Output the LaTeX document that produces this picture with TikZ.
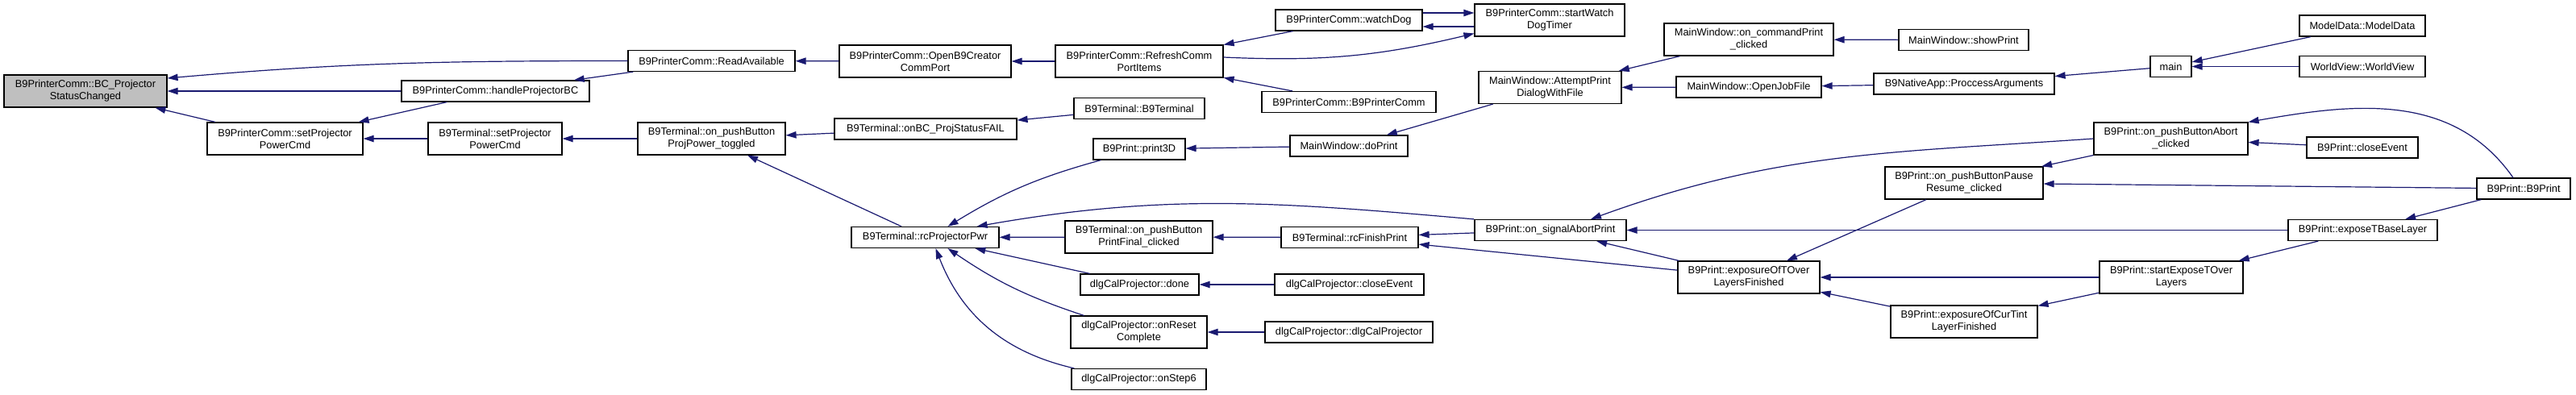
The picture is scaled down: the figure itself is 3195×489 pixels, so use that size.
\documentclass[tikz,border=0pt]{standalone}
\usepackage{fontspec}
\setmainfont{Liberation Sans}
\usetikzlibrary{arrows.meta}
\definecolor{edgeblue}{HTML}{191970}
\definecolor{hilite}{HTML}{BFBFBF}
\newcommand{\fnfont}{\fontsize{6.4pt}{7.5pt}\selectfont}
\tikzset{
  fn/.style={draw=black, fill=white, line width=0.6pt, align=center, font=\fnfont, inner sep=1pt},
  calls/.style={draw=edgeblue, line width=0.6pt, -{Triangle[length=6.5pt,width=4.2pt]}},
}

\begin{document}
\begin{tikzpicture}[x=0.5pt,y=-0.5pt]
    \useasboundingbox (0,0) rectangle (3195,489);
    \node[fn, fill=hilite, minimum width=101pt, minimum height=20pt] (bc) at (106,113)
      {B9PrinterComm::BC\_Projector\\StatusChanged};
    \foreach \n/\x/\y/\w/\h/\txt in {%
      handle/614.5/113/233/26/{B9PrinterComm::handleProjectorBC},
      pcSetPower/353.5/172/193/40/{B9PrinterComm::setProjector\\PowerCmd},
      termSetPower/614/172/166/40/{B9Terminal::setProjector\\PowerCmd},
      readAvail/882.5/75.5/207/26/{B9PrinterComm::ReadAvailable},
      projToggled/882.5/172/183/40/{B9Terminal::on\_pushButton\\ProjPower\_toggled},
      openPort/1147.5/76/213/40/{B9PrinterComm::OpenB9Creator\\CommPort},
      statusFail/1148/160/226/26/{B9Terminal::onBC\_ProjStatusFAIL},
      rcPwr/1147.5/294.5/183/26/{B9Terminal::rcProjectorPwr},
      refreshPort/1413/76/208/40/{B9PrinterComm::RefreshComm\\PortItems},
      termCtor/1413/134.5/162/26/{B9Terminal::B9Terminal},
      print3D/1413/185/114/26/{B9Print::print3D},
      printFinal/1412.5/294/183/40/{B9Terminal::on\_pushButton\\PrintFinal\_clicked},
      calDone/1413.5/353/147/26/{dlgCalProjector::done},
      calReset/1412.5/412/169/40/{dlgCalProjector::onReset\\Complete},
      calStep6/1412.5/470.5/167/26/{dlgCalProjector::onStep6},
      watchDog/1673/25/182/26/{B9PrinterComm::watchDog},
      pcCtor/1673/126.5/216/26/{B9PrinterComm::B9PrinterComm},
      doPrint/1673/181/146/26/{MainWindow::doPrint},
      rcFinish/1674/294.5/170/26/{B9Terminal::rcFinishPrint},
      calClose/1673.5/353/185/26/{dlgCalProjector::closeEvent},
      calCtor/1673/412/208/26/{dlgCalProjector::dlgCalProjector},
      startWatch/1922/25/186/40/{B9PrinterComm::startWatch\\DogTimer},
      attempt/1922.5/108.5/177/40/{MainWindow::AttemptPrint\\DialogWithFile},
      abortPrint/1923/285.5/188/26/{B9Print::on\_signalAbortPrint},
      cmdPrint/2169/49/210/40/{MainWindow::on\_commandPrint\\\_clicked},
      openJob/2169/108/180/26/{MainWindow::OpenJobFile},
      tOverDone/2169/344/176/40/{B9Print::exposureOfTOver\\LayersFinished},
      showPrint/2435.5/49.5/161/26/{MainWindow::showPrint},
      procArgs/2436/104/224/26/{B9NativeApp::ProccessArguments},
      pushPause/2436/227/196/40/{B9Print::on\_pushButtonPause\\Resume\_clicked},
      curTintDone/2436/399/182/40/{B9Print::exposureOfCurTint\\LayerFinished},
      mainFn/2692.5/82.5/51/26/{main},
      pushAbort/2692.5/172/191/40/{B9Print::on\_pushButtonAbort\\\_clicked},
      startTOver/2693/344/178/40/{B9Print::startExposeTOver\\Layers},
      modelData/2930/32/156/26/{ModelData::ModelData},
      worldView/2930/82.5/156/26/{WorldView::WorldView},
      printClose/2930/183/138/26/{B9Print::closeEvent},
      baseLayer/2930.5/285.5/185/26/{B9Print::exposeTBaseLayer},
      printCtor/3130/234/116/26/{B9Print::B9Print}}{
      \node[fn, minimum width=\w*0.5pt, minimum height=\h*0.5pt] (\n) at (\x,\y) {\txt};}
    \draw[calls] (readAvail.west) to[out=180,in=5] ([yshift=8pt]bc.east);
    \draw[calls] (handle) -- (bc);
    \draw[calls] (pcSetPower) -- (bc);
    \draw[calls] (readAvail) -- (handle);
    \draw[calls] (handle) -- (pcSetPower);
    \draw[calls] (termSetPower) -- (pcSetPower);
    \draw[calls] (projToggled) -- (termSetPower);
    \draw[calls] (openPort) -- (readAvail);
    \draw[calls] (refreshPort) -- (openPort);
    \draw[calls] (watchDog) -- (refreshPort);
    \draw[calls] (pcCtor) -- (refreshPort);
    \draw[calls] ([yshift=-4pt]startWatch.west) -- ([yshift=-4pt]watchDog.east);
    \draw[calls] ([yshift=4.5pt]watchDog.east) -- ([yshift=4.5pt]startWatch.west);
    \draw[calls] ([yshift=2.5pt]refreshPort.east) to[bend right=8] (startWatch.190);
    \draw[calls] (statusFail) -- (projToggled);
    \draw[calls] (termCtor) -- (statusFail);
    \draw[calls] (rcPwr) -- (projToggled);
    \draw[calls] ([xshift=5pt]print3D.south west) to[bend right=8] ([xshift=14pt]rcPwr.north);
    \draw[calls] (abortPrint.north west) to[out=175,in=10] ([xshift=-14pt]rcPwr.north east);
    \draw[calls] (printFinal) -- (rcPwr);
    \draw[calls] (calDone) -- (rcPwr);
    \draw[calls] ([xshift=-34pt]calReset.north) to[bend left=8] ([xshift=14pt]rcPwr.south);
    \draw[calls] ([xshift=2pt]calStep6.north west) to[bend left=28] ([xshift=6.5pt]rcPwr.south);
    \draw[calls] (doPrint) -- (print3D);
    \draw[calls] (attempt) -- (doPrint);
    \draw[calls] (cmdPrint) -- (attempt);
    \draw[calls] (openJob) -- (attempt);
    \draw[calls] (showPrint) -- (cmdPrint);
    \draw[calls] (procArgs) -- (openJob);
    \draw[calls] (mainFn) -- (procArgs);
    \draw[calls] (modelData) -- (mainFn);
    \draw[calls] (worldView) -- (mainFn);
    \draw[calls] (rcFinish) -- (printFinal);
    \draw[calls] (calClose) -- (calDone);
    \draw[calls] (calCtor) -- (calReset);
    \draw[calls] (abortPrint) -- (rcFinish);
    \draw[calls] (tOverDone) -- (rcFinish);
    \draw[calls] (tOverDone) -- (abortPrint);
    \draw[calls] (pushAbort.west) to[out=184,in=20] ([xshift=25pt]abortPrint.north);
    \draw[calls] (baseLayer) -- (abortPrint);
    \draw[calls] (pushPause) -- (tOverDone);
    \draw[calls] (startTOver) -- (tOverDone);
    \draw[calls] (curTintDone) -- (tOverDone);
    \draw[calls] (pushAbort) -- (pushPause);
    \draw[calls] (printCtor) -- (pushPause);
    \draw[calls] (printClose) -- (pushAbort);
    \draw[calls] ([xshift=-6.5pt]printCtor.north) to[out=125,in=10] (pushAbort.north east);
    \draw[calls] (printCtor) -- (baseLayer);
    \draw[calls] (baseLayer) -- (startTOver);
    \draw[calls] (startTOver) -- (curTintDone);
  \end{tikzpicture}
\end{document}
